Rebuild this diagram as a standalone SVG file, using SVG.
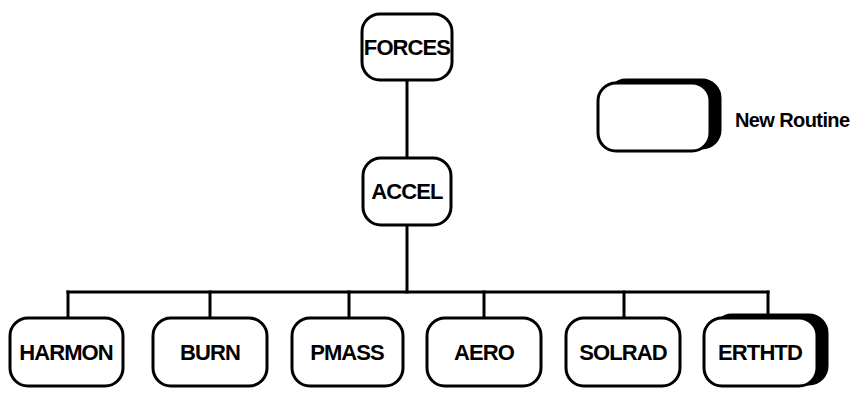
<svg xmlns="http://www.w3.org/2000/svg" width="866" height="401" viewBox="0 0 866 401">
  <style>
    .box { fill: #ffffff; stroke: #000000; stroke-width: 3; }
    .shade { fill: #000000; stroke: #000000; stroke-width: 3; }
    .wire { fill: none; stroke: #000000; stroke-width: 3; stroke-linecap: square; }
    .lbl { font-family: "Liberation Sans", Arial, sans-serif; font-weight: bold; font-size: 22px; letter-spacing: -0.9px; fill: #000000; text-anchor: middle; dominant-baseline: central; }
    .key { font-family: "Liberation Sans", Arial, sans-serif; font-weight: bold; font-size: 20px; letter-spacing: -0.6px; fill: #000000; dominant-baseline: central; }
  </style>

  <!-- connectors -->
  <g id="connectors">
    <line class="wire" x1="407" y1="80" x2="407" y2="158"/>
    <line class="wire" x1="407" y1="225" x2="407" y2="292"/>
    <line class="wire" x1="68" y1="292" x2="768" y2="292"/>
    <line class="wire" x1="68" y1="292" x2="68" y2="318"/>
    <line class="wire" x1="210" y1="292" x2="210" y2="318"/>
    <line class="wire" x1="349" y1="292" x2="349" y2="318"/>
    <line class="wire" x1="484" y1="292" x2="484" y2="318"/>
    <line class="wire" x1="624" y1="292" x2="624" y2="318"/>
    <line class="wire" x1="768" y1="292" x2="768" y2="318"/>
  </g>

  <g id="forces">
    <rect class="box" x="362" y="14" width="90" height="66" rx="18"/>
    <text class="lbl" x="407" y="47">FORCES</text>
  </g>

  <g id="accel">
    <rect class="box" x="363" y="158" width="88" height="67" rx="18"/>
    <text class="lbl" x="407" y="191">ACCEL</text>
  </g>

  <g id="harmon">
    <rect class="box" x="10" y="318" width="113" height="68" rx="18"/>
    <text class="lbl" x="66" y="352">HARMON</text>
  </g>

  <g id="burn">
    <rect class="box" x="153" y="318" width="114" height="68" rx="18"/>
    <text class="lbl" x="210" y="352">BURN</text>
  </g>

  <g id="pmass">
    <rect class="box" x="292" y="318" width="111" height="68" rx="18"/>
    <text class="lbl" x="347" y="352">PMASS</text>
  </g>

  <g id="aero">
    <rect class="box" x="427" y="318" width="114" height="68" rx="18"/>
    <text class="lbl" x="484" y="352">AERO</text>
  </g>

  <g id="solrad">
    <rect class="box" x="566" y="318" width="114" height="68" rx="18"/>
    <text class="lbl" x="623" y="352">SOLRAD</text>
  </g>

  <!-- new routine: shaded on top and right -->
  <g id="erthtd">
    <rect class="shade" x="714" y="315" width="113" height="69" rx="18"/>
    <rect class="box" x="704" y="318" width="113" height="68" rx="18"/>
    <text class="lbl" x="760" y="352">ERTHTD</text>
  </g>

  <g id="legend">
    <rect class="shade" x="608" y="80" width="112" height="68" rx="18"/>
    <rect class="box" x="598" y="83" width="112" height="68" rx="18"/>
    <text class="key" x="735" y="120">New Routine</text>
  </g>
</svg>
